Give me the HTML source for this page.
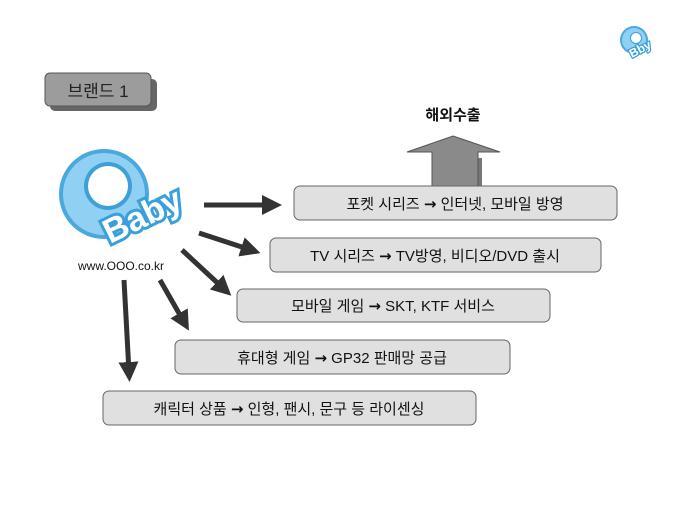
<!DOCTYPE html>
<html><head><meta charset="utf-8"><style>
body{margin:0;background:#fff;}
svg text{font-family:"Liberation Sans","Noto Sans CJK KR",sans-serif;}
.ar{font-family:"DejaVu Sans",sans-serif;font-weight:bold;}
</style></head><body>
<svg width="680" height="510" viewBox="0 0 680 510" xmlns="http://www.w3.org/2000/svg">
<defs>
<marker id="ah" markerWidth="4" markerHeight="4" refX="2" refY="2" orient="auto" markerUnits="strokeWidth">
<path d="M0,0 L4,2 L0,4 z" fill="#333"/></marker>
</defs>
<rect x="50" y="79" width="107" height="32" rx="5" fill="#666"/>
<rect x="45" y="73" width="106" height="33" rx="5" fill="#9c9c9c" stroke="#555" stroke-width="1"/>
<text x="98" y="97" font-size="17" text-anchor="middle" fill="#222">브랜드 1</text>
<text x="453" y="120" font-size="15" font-weight="bold" text-anchor="middle" fill="#111">해외수출</text>
<path d="M437,158 L482,158 L482,190 L437,190 z" fill="#777"/>
<path d="M453,136 L500,152 L478,152 L478,186 L432,186 L432,152 L407,152 z" fill="#8a8a8a" stroke="#555" stroke-width="1"/>
<circle cx="104" cy="194" r="45" fill="#4aa8e0"/>
<circle cx="104" cy="194" r="41" fill="#8fd0f3"/>
<circle cx="108" cy="186" r="24" fill="#3f9fd8"/>
<circle cx="108" cy="186" r="20" fill="#fff"/>
<g transform="translate(110,244) rotate(-26)">
<text x="0" y="0" font-size="34" font-weight="bold" fill="#fff" stroke="#3aa0dc" stroke-width="6" paint-order="stroke">Baby</text>
</g>
<text x="121" y="270" font-size="12" text-anchor="middle" fill="#111">www.OOO.co.kr</text>
<circle cx="634" cy="40" r="14" fill="#4aa8e0"/>
<circle cx="634" cy="40" r="12" fill="#8fd0f3"/>
<circle cx="636" cy="38" r="6" fill="#3f9fd8"/>
<circle cx="636" cy="38" r="5" fill="#fff"/>
<g transform="translate(632,58) rotate(-28)"><text font-size="12" font-weight="bold" fill="#fff" stroke="#3aa0dc" stroke-width="2.5" paint-order="stroke">Bby</text></g>
<g stroke="#333" stroke-width="5" fill="none" marker-end="url(#ah)">
<line x1="204" y1="205" x2="272" y2="205"/>
<line x1="199" y1="233" x2="251" y2="250"/>
<line x1="182" y1="250" x2="224" y2="289"/>
<line x1="160" y1="280" x2="184" y2="322"/>
<line x1="124" y1="280" x2="129" y2="372"/>
</g>
<g fill="#e0e0e0" stroke="#666" stroke-width="1">
<rect x="294" y="186" width="323" height="34" rx="6"/>
<rect x="270" y="238" width="331" height="34" rx="6"/>
<rect x="237" y="289" width="313" height="33" rx="6"/>
<rect x="175" y="340" width="335" height="34" rx="6"/>
<rect x="103" y="391" width="373" height="34" rx="6"/>
</g>
<g font-size="15" fill="#111" text-anchor="middle">
<text x="455" y="209">포켓 시리즈 <tspan class="ar">→</tspan> 인터넷, 모바일 방영</text>
<text x="435" y="261">TV 시리즈 <tspan class="ar">→</tspan> TV방영, 비디오/DVD 출시</text>
<text x="393" y="311">모바일 게임 <tspan class="ar">→</tspan> SKT, KTF 서비스</text>
<text x="342" y="363">휴대형 게임 <tspan class="ar">→</tspan> GP32 판매망 공급</text>
<text x="289" y="414">캐릭터 상품 <tspan class="ar">→</tspan> 인형, 팬시, 문구 등 라이센싱</text>
</g>
</svg>
</body></html>
